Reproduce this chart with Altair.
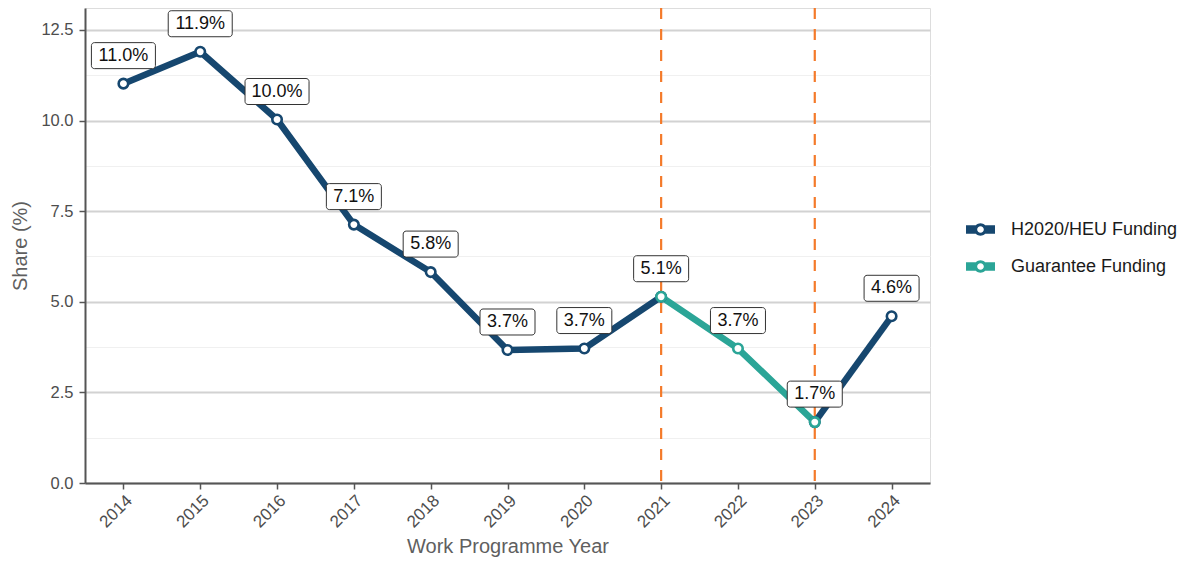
import altair as alt
import pandas as pd

years = [2014, 2015, 2016, 2017, 2018, 2019, 2020, 2021, 2022, 2023, 2024]
h2020_share = [11.02, 11.9, 10.03, 7.13, 5.82, 3.67, 3.71, 5.14, None, 1.68, 4.6]
guarantee_share = [None, None, None, None, None, None, None, 5.14, 3.71, 1.68, None]
series_names = ["H2020/HEU Funding", "Guarantee Funding"]
series_colors = ["#16476F", "#2BA597"]
phase_breaks = [2021, 2023]
y_ticks = [0, 1.25, 2.5, 3.75, 5.0, 6.25, 7.5, 8.75, 10.0, 11.25, 12.5]

FONT = "Liberation Sans"

# long-form table, with a segment id so the H2020 line breaks at 2022
rows = []
for name, vals in zip(series_names, [h2020_share, guarantee_share]):
    seg = 0
    for yr, v in zip(years, vals):
        if v is None:
            seg += 1
            continue
        rows.append({"year": yr, "series": name, "share": v, "seg": f"{name}-{seg}"})
series_df = pd.DataFrame(rows)

label_rows = []
for yr, a, b in zip(years, h2020_share, guarantee_share):
    label_rows.append({"year": yr, "share": a if a is not None else b})
label_df = pd.DataFrame(label_rows)

break_df = pd.DataFrame({"year": phase_breaks})

x = alt.X(
    "year:Q",
    scale=alt.Scale(domain=[2013.5, 2024.5], nice=False, zero=False),
    axis=alt.Axis(
        values=years, format="d", labelAngle=-45, title="Work Programme Year",
        grid=False, labelFontSize=17, labelColor="#4D4D4D", labelPadding=3,
        tickSize=6, tickColor="#555555", tickWidth=1.5,
        domainColor="#555555", domainWidth=2,
        titleFontSize=20, titleFontWeight="normal", titleColor="#5F5F5F",
        titlePadding=6, labelFont=FONT, titleFont=FONT,
    ),
)
y = alt.Y(
    "share:Q",
    scale=alt.Scale(domain=[0, 13.107], nice=False),
    axis=alt.Axis(
        values=y_ticks, title="Share (%)",
        labelExpr="datum.value % 2.5 === 0 ? format(datum.value, '.1f') : ''",
        grid=True,
        gridColor={"condition": {"test": "datum.value % 2.5 === 0", "value": "#D2D2D2"}, "value": "#F0F0F0"},
        gridWidth={"condition": {"test": "datum.value % 2.5 === 0", "value": 1.8}, "value": 1},
        tickOpacity={"condition": {"test": "datum.value % 2.5 === 0", "value": 1}, "value": 0},
        labelFontSize=16.5, labelColor="#4D4D4D", labelPadding=6,
        tickSize=6, tickColor="#555555", tickWidth=1.5,
        domainColor="#555555", domainWidth=2,
        titleFontSize=20, titleFontWeight="normal", titleColor="#5F5F5F",
        titlePadding=10, labelFont=FONT, titleFont=FONT,
    ),
)

legend_path = (
    "M-1,-0.286 L-0.3,-0.286 L-0.3,0.286 L-1,0.286 Z "
    "M0.3,-0.286 L1,-0.286 L1,0.286 L0.3,0.286 Z "
    "M0.43,0 A0.43,0.43 0 1,1 -0.43,0 A0.43,0.43 0 1,1 0.43,0 Z "
    "M0.23,0 A0.23,0.23 0 1,0 -0.23,0 A0.23,0.23 0 1,0 0.23,0 Z"
)
legend = alt.Legend(
    title=None, orient="none", legendX=881, legendY=207,
    symbolType=legend_path, symbolSize=841, symbolOpacity=1, symbolStrokeWidth=0,
    labelFontSize=18, labelColor="#1A1A1A", labelFont=FONT, labelLimit=400,
    labelOffset=16, rowPadding=13, padding=0,
)
color_scale = alt.Scale(domain=series_names, range=series_colors)
color_nolegend = alt.Color("series:N", scale=color_scale, legend=None)
color_legend = alt.Color("series:N", scale=color_scale, legend=legend)

breaks = alt.Chart(break_df).mark_rule(
    color="#F47A2A", strokeWidth=2.2, strokeDash=[11, 10]
).encode(x=x)

# invisible filled layer that only carries the legend
legend_layer = alt.Chart(series_df).mark_point(filled=True, opacity=0, shape="circle").encode(
    x=x, y=y, color=color_legend
)

lines = alt.Chart(series_df).mark_line(strokeWidth=6.5, strokeJoin="round", strokeCap="butt").encode(
    x=x, y=y, color=color_nolegend, detail="seg:N",
    order=alt.Order("year:Q"),
)

points = alt.Chart(series_df).mark_point(
    shape="circle", filled=False, fill="white", fillOpacity=1, opacity=1, size=90, strokeWidth=2.6
).encode(x=x, y=y, color=color_nolegend, order=alt.Order("series:N", sort="descending"))

label_base = alt.Chart(label_df).transform_calculate(
    label="format(datum.share, '.1f') + '%'"
)
box_common = dict(fill="white", stroke="#333333", strokeWidth=1, cornerRadius=3,
                  yOffset=-41, y2Offset=-15)
boxes_wide = label_base.transform_filter("length(datum.label) > 4").mark_rect(
    xOffset=-32, x2Offset=32, **box_common
).encode(x=x, x2="year:Q", y=y, y2="share:Q")
boxes_narrow = label_base.transform_filter("length(datum.label) <= 4").mark_rect(
    xOffset=-27.5, x2Offset=27.5, **box_common
).encode(x=x, x2="year:Q", y=y, y2="share:Q")
texts = label_base.mark_text(
    fontSize=18, dy=-28, baseline="middle", align="center", color="#111111", font=FONT
).encode(x=x, y=y, text="label:N")

chart = alt.layer(legend_layer, breaks, lines, points, boxes_wide, boxes_narrow, texts).properties(
    width=845, height=475, autosize="none",
    padding={"left": 77, "top": 0, "right": 250, "bottom": 78},
).configure_view(stroke=None).configure(font=FONT)

chart.save("out.html", embed_options={"renderer": "svg", "actions": False})
